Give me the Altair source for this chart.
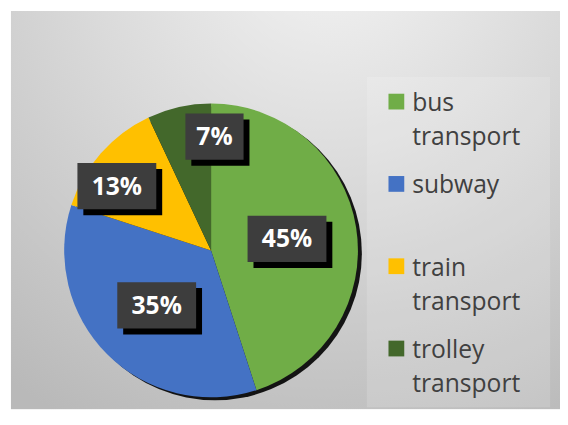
import altair as alt
import pandas as pd

# ---- data ----
categories = ["bus transport", "subway", "train transport", "trolley transport"]
shares = [45, 35, 13, 7]
colors = ["#70AD47", "#4472C4", "#FFC000", "#43682B"]

df = pd.DataFrame({"category": categories, "share": shares, "idx": list(range(len(categories)))})
one = pd.DataFrame({"k": [0]})

# ---- layout ----
W, H = 560, 409
CX, CY, R = 206, 243, 149

color_scale = alt.Scale(domain=categories, range=colors)

bg_grad = {
    "gradient": "radial",
    "x1": 0.58, "y1": 0.0, "r1": 0.0,
    "x2": 0.58, "y2": 0.0, "r2": 1.0,
    "stops": [
        {"offset": 0.0, "color": "#f4f4f4"},
        {"offset": 0.45, "color": "#dadada"},
        {"offset": 1.0, "color": "#b9b9b9"},
    ],
}

bg = alt.Chart(one).mark_rect(fill=bg_grad).encode(
    x=alt.value(3), x2=alt.value(W), y=alt.value(0), y2=alt.value(404)
)

panel = alt.Chart(one).mark_rect(fill="#ffffff", opacity=0.15).encode(
    x=alt.value(364), x2=alt.value(550), y=alt.value(67), y2=alt.value(402)
)

shadow = alt.Chart(one).mark_arc(radius=R, theta=0, theta2=6.2832, color="#000000", opacity=0.9).encode(
    x=alt.value(CX + 4), y=alt.value(CY + 3)
)

base = alt.Chart(df)

pie = base.mark_arc(radius=R).encode(
    theta=alt.Theta("share:Q", stack=True),
    color=alt.Color("category:N", scale=color_scale, legend=None),
    order=alt.Order("idx:Q", sort="ascending"),
    x=alt.value(CX),
    y=alt.value(CY),
)

lab = (
    base.transform_joinaggregate(total="sum(share)")
    .transform_window(cum="sum(share)", sort=[alt.SortField("idx")], frame=[None, 0])
    .transform_calculate(
        a_end="2*PI*datum.cum/datum.total",
        a_mid="2*PI*(datum.cum - datum.share/2)/datum.total",
        frac="datum.share/datum.total",
        txt="datum.share + '%'",
    )
    .transform_calculate(
        la="datum.frac < 0.1 ? datum.a_end + 0.03 : (datum.frac < 0.2 ? datum.a_mid - 0.12 : datum.a_mid)",
        lr="datum.frac < 0.2 ? 116 : 78",
        bw="17 + 21*length(datum.txt)",
    )
    .transform_calculate(
        px=f"{CX} + datum.lr*sin(datum.la)",
        py=f"{CY} - datum.lr*cos(datum.la)",
    )
    .transform_calculate(
        bx1="datum.px - datum.bw/2",
        bx2="datum.px + datum.bw/2",
        by1="datum.py - 23",
        by2="datum.py + 24",
        sx1="datum.px - datum.bw/2 + 6",
        sx2="datum.px + datum.bw/2 + 6",
        sy1="datum.py - 17",
        sy2="datum.py + 30",
    )
)

box_shadow = lab.mark_rect(color="#000000").encode(
    x=alt.X("sx1:Q", scale=None, axis=None),
    x2="sx2:Q",
    y=alt.Y("sy1:Q", scale=None, axis=None),
    y2="sy2:Q",
)
box = lab.mark_rect(color="#3d3d3d").encode(
    x=alt.X("bx1:Q", scale=None, axis=None),
    x2="bx2:Q",
    y=alt.Y("by1:Q", scale=None, axis=None),
    y2="by2:Q",
)
box_text = lab.mark_text(
    font="Open Sans", fontWeight="bold", fontSize=25, color="#ffffff",
    align="center", baseline="middle", dy=1,
).encode(
    x=alt.X("px:Q", scale=None, axis=None),
    y=alt.Y("py:Q", scale=None, axis=None),
    text="txt:N",
)

leg = base.transform_calculate(
    ly="92 + datum.idx*83.5",
    l1="split(datum.category, ' ')[0]",
    l2="length(split(datum.category, ' ')) > 1 ? split(datum.category, ' ')[1] : ''",
).transform_calculate(
    t1y="datum.ly + 9.5",
    t2y="datum.ly + 44.5",
)

leg_sq = leg.mark_square(size=256, opacity=1).encode(
    x=alt.value(394),
    y=alt.Y("ly:Q", scale=None, axis=None),
    color=alt.Color("category:N", scale=color_scale, legend=None),
)
leg_t1 = leg.mark_text(font="Open Sans", fontSize=25, color="#404040", align="left", baseline="alphabetic").encode(
    x=alt.value(410),
    y=alt.Y("t1y:Q", scale=None, axis=None),
    text="l1:N",
)
leg_t2 = leg.mark_text(font="Open Sans", fontSize=25, color="#404040", align="left", baseline="alphabetic").encode(
    x=alt.value(410),
    y=alt.Y("t2y:Q", scale=None, axis=None),
    text="l2:N",
)

chart = (
    alt.layer(bg, panel, shadow, pie, box_shadow, box, box_text, leg_sq, leg_t1, leg_t2)
    .properties(width=W, height=H, autosize=alt.AutoSizeParams(type="none"), padding=0, background="#ffffff")
    .configure_view(stroke=None)
)

chart.save("out.html", embed_options={"renderer": "svg", "actions": False})
